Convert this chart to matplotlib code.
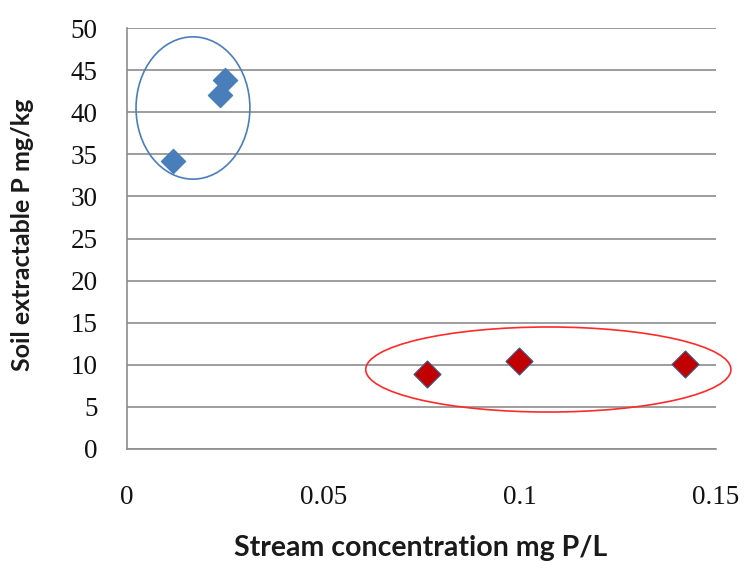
import matplotlib
matplotlib.use("Agg")
import matplotlib.pyplot as plt
from matplotlib.patches import Ellipse

# Data
blue_x = [0.0117, 0.0237, 0.0250]
blue_y = [34.2, 42.1, 43.8]
red_x = [0.0764, 0.0998, 0.142]
red_y = [8.9, 10.45, 10.1]
x_ticks = [0, 0.05, 0.1, 0.15]
x_tick_labels = ["0", "0.05", "0.1", "0.15"]
y_ticks = list(range(0, 51, 5))

fig = plt.figure(figsize=(7.46, 5.61), dpi=100)
ax = fig.add_axes([127/746, 1-449/561, (716-127)/746, (449-28)/561])

ax.set_xlim(0, 0.15)
ax.set_ylim(0, 50)
ax.set_yticks(y_ticks)
ax.set_xticks(x_ticks)
ax.set_xticklabels(x_tick_labels)
ax.grid(axis="y", color="#8c8c8c", linewidth=1.2)
ax.set_axisbelow(True)
for s in ["top", "right"]:
    ax.spines[s].set_visible(False)
for s in ["left", "bottom"]:
    ax.spines[s].set_color("#8c8c8c")
    ax.spines[s].set_linewidth(1.2)
ax.tick_params(axis="both", length=0, labelsize=19.5, labelcolor="#111111")
ax.tick_params(axis="y", pad=21)
ax.tick_params(axis="x", pad=26)
for lab in ax.get_xticklabels() + ax.get_yticklabels():
    lab.set_fontfamily("Liberation Serif")

ax.scatter(blue_x, blue_y, marker="D", s=150, color="#4a7ebb", edgecolors="#4a7ebb", zorder=3, clip_on=False)
ax.scatter(red_x, red_y, marker="D", s=190, color="#c00000", edgecolors="#3d5a8a", linewidths=0.8, zorder=3, clip_on=False)

e1 = Ellipse((0.0168, 40.5), 0.029, 16.9, fill=False, edgecolor="#4a7ebb", linewidth=1.2, clip_on=False)
e2 = Ellipse((0.1073, 9.44), 0.093, 10.1, fill=False, edgecolor="#ff2a2a", linewidth=1.2, clip_on=False)
ax.add_patch(e1)
ax.add_patch(e2)

fig.text(421/746, 1-548/561, "Stream concentration mg P/L", ha="center", va="center",
         fontsize=20.5, fontweight="bold", family="Lato", color="#1a1a1a")
fig.text(23/746, 1-235/561, "Soil extractable P mg/kg", ha="center", va="center", rotation=90,
         fontsize=18, fontweight="bold", family="Lato", color="#1a1a1a")

fig.savefig("out.png", dpi=100)
